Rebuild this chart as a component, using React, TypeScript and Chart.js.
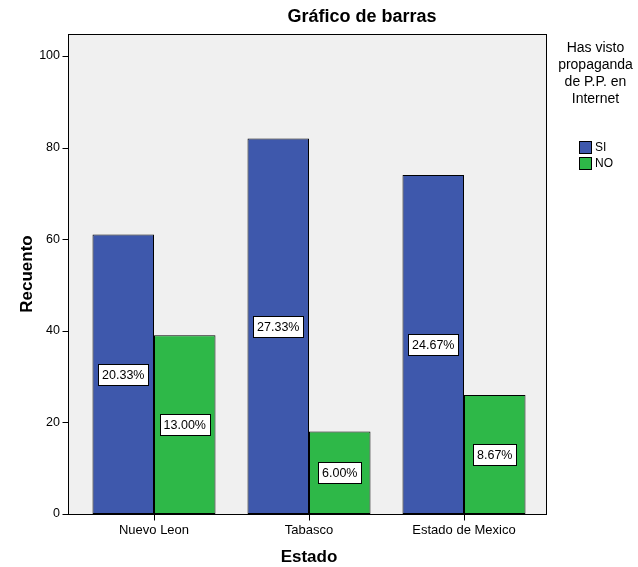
import React, { useEffect, useRef } from 'react';
import { Chart, registerables } from 'chart.js';

Chart.register(...registerables);

const categories = ['Nuevo Leon', 'Tabasco', 'Estado de Mexico'];
const siValues = [61, 82, 74];
const noValues = [39, 18, 26];
const siPercents = ['20.33%', '27.33%', '24.67%'];
const noPercents = ['13.00%', '6.00%', '8.67%'];
const seriesNames = ['SI', 'NO'];
const seriesColors = ['#3E58AC', '#2EB848'];
const legendTitle = ['Has visto', 'propaganda', 'de P.P. en', 'Internet'];
const chartTitle = 'Gráfico de barras';
const xTitle = 'Estado';
const yTitle = 'Recuento';

const FONT = '"Liberation Sans", Arial, sans-serif';

const decorPlugin = {
  id: 'decor',
  beforeDraw(chart: any) {
    const { ctx, chartArea: ca } = chart;
    const fl = ca.left - 8.5;
    const fr = ca.right + 4.5;
    ctx.save();
    ctx.fillStyle = '#F0F0F0';
    ctx.fillRect(fl, ca.top, fr - fl, ca.bottom - ca.top);
    ctx.restore();
  },
  afterDatasetsDraw(chart: any) {
    const { ctx, chartArea: ca, scales } = chart;
    const fl = Math.round(ca.left - 8.5) + 0.5;
    const fr = Math.round(ca.right + 4.5) + 0.5;
    const ft = Math.round(ca.top) + 0.5;
    const fb = Math.round(ca.bottom) + 0.5;
    ctx.save();
    // data labels
    ctx.font = `12.5px ${FONT}`;
    ctx.textAlign = 'center';
    ctx.textBaseline = 'middle';
    const labelSets = [siPercents, noPercents];
    chart.data.datasets.forEach((ds: any, di: number) => {
      const meta = chart.getDatasetMeta(di);
      meta.data.forEach((bar: any, i: number) => {
        const txt = labelSets[di][i];
        const cx = bar.x;
        const cy = (bar.y + bar.base) / 2;
        const w = Math.round(ctx.measureText(txt).width + 8);
        const h = 21;
        const bx = Math.round(cx - w / 2) + 0.5;
        const by = Math.round(cy - h / 2) + 0.5;
        ctx.fillStyle = '#FFFFFF';
        ctx.fillRect(bx, by, w, h);
        ctx.strokeStyle = '#000000';
        ctx.lineWidth = 1;
        ctx.strokeRect(bx, by, w, h);
        ctx.fillStyle = '#000000';
        ctx.fillText(txt, cx, cy + 1);
      });
    });
    // frame
    ctx.strokeStyle = '#000000';
    ctx.lineWidth = 1;
    ctx.strokeRect(fl, ft, fr - fl, fb - ft);
    // y ticks
    const y = scales.y;
    y.ticks.forEach((t: any) => {
      const py = Math.round(y.getPixelForValue(t.value)) + 0.5;
      ctx.beginPath();
      ctx.moveTo(fl - 6, py);
      ctx.lineTo(fl, py);
      ctx.stroke();
    });
    // x ticks
    const x = scales.x;
    categories.forEach((_, i) => {
      const px = Math.round(x.getPixelForValue(i)) + 0.5;
      ctx.beginPath();
      ctx.moveTo(px, fb);
      ctx.lineTo(px, fb + 6);
      ctx.stroke();
    });
    // titles
    ctx.fillStyle = '#000000';
    ctx.textAlign = 'center';
    ctx.textBaseline = 'middle';
    ctx.font = `bold 18px ${FONT}`;
    ctx.fillText(chartTitle, 362, 17);
    ctx.font = `bold 17px ${FONT}`;
    ctx.fillText(xTitle, (ca.left + ca.right) / 2, 557);
    ctx.save();
    ctx.translate(27, (ca.top + ca.bottom) / 2);
    ctx.rotate(-Math.PI / 2);
    ctx.fillText(yTitle, 0, 0);
    ctx.restore();
    // legend
    ctx.font = `14px ${FONT}`;
    legendTitle.forEach((line, i) => {
      ctx.fillText(line, 595.5, 48 + i * 17);
    });
    ctx.font = `12px ${FONT}`;
    ctx.textAlign = 'left';
    seriesNames.forEach((name, i) => {
      const sy = 141.5 + i * 16;
      ctx.fillStyle = seriesColors[i];
      ctx.fillRect(579.5, sy, 12, 12);
      ctx.strokeStyle = '#000000';
      ctx.strokeRect(579.5, sy, 12, 12);
      ctx.fillStyle = '#000000';
      ctx.fillText(name, 595, sy + 6.5);
    });
    ctx.restore();
  },
};

export default function App() {
  const ref = useRef<HTMLCanvasElement | null>(null);
  useEffect(() => {
    if (!ref.current) return;
    const chart = new Chart(ref.current, {
      type: 'bar',
      data: {
        labels: categories,
        datasets: [
          {
            label: seriesNames[0],
            data: siValues,
            backgroundColor: seriesColors[0],
            borderColor: '#000000',
            borderWidth: 1,
            borderSkipped: false,
          },
          {
            label: seriesNames[1],
            data: noValues,
            backgroundColor: seriesColors[1],
            borderColor: '#000000',
            borderWidth: 1,
            borderSkipped: false,
          },
        ],
      },
      options: {
        animation: false,
        responsive: false,
        maintainAspectRatio: false,
        layout: { padding: { left: 0, right: 96.5, top: 34, bottom: 0 } },
        datasets: { bar: { categoryPercentage: 0.7935, barPercentage: 1 } },
        plugins: {
          legend: { display: false },
          title: { display: false },
          tooltip: { enabled: false },
        },
        scales: {
          x: {
            type: 'category',
            grid: { display: false, drawTicks: false },
            border: { display: false },
            ticks: { font: { family: FONT, size: 13 }, color: '#000000', padding: 9, maxRotation: 0, autoSkip: false },
            afterFit: (s: any) => { s.height = 53; },
          },
          y: {
            min: 0,
            max: 104.8,
            grid: { display: false, drawTicks: false },
            border: { display: false },
            ticks: {
              stepSize: 20,
              font: { family: FONT, size: 12.5 },
              color: '#000000',
              padding: 16.5,
              callback: (v: any) => (Number(v) % 20 === 0 && Number(v) <= 100 ? String(v) : null),
            },
            afterFit: (s: any) => { s.width = 76.5; },
          },
        },
      },
      plugins: [decorPlugin],
    });
    return () => chart.destroy();
  }, []);
  return (
    <div style={{ position: 'fixed', left: 0, top: 0, width: 638, height: 567, background: '#fff' }}>
      <canvas ref={ref} width={638} height={567} style={{ width: 638, height: 567 }} />
    </div>
  );
}
